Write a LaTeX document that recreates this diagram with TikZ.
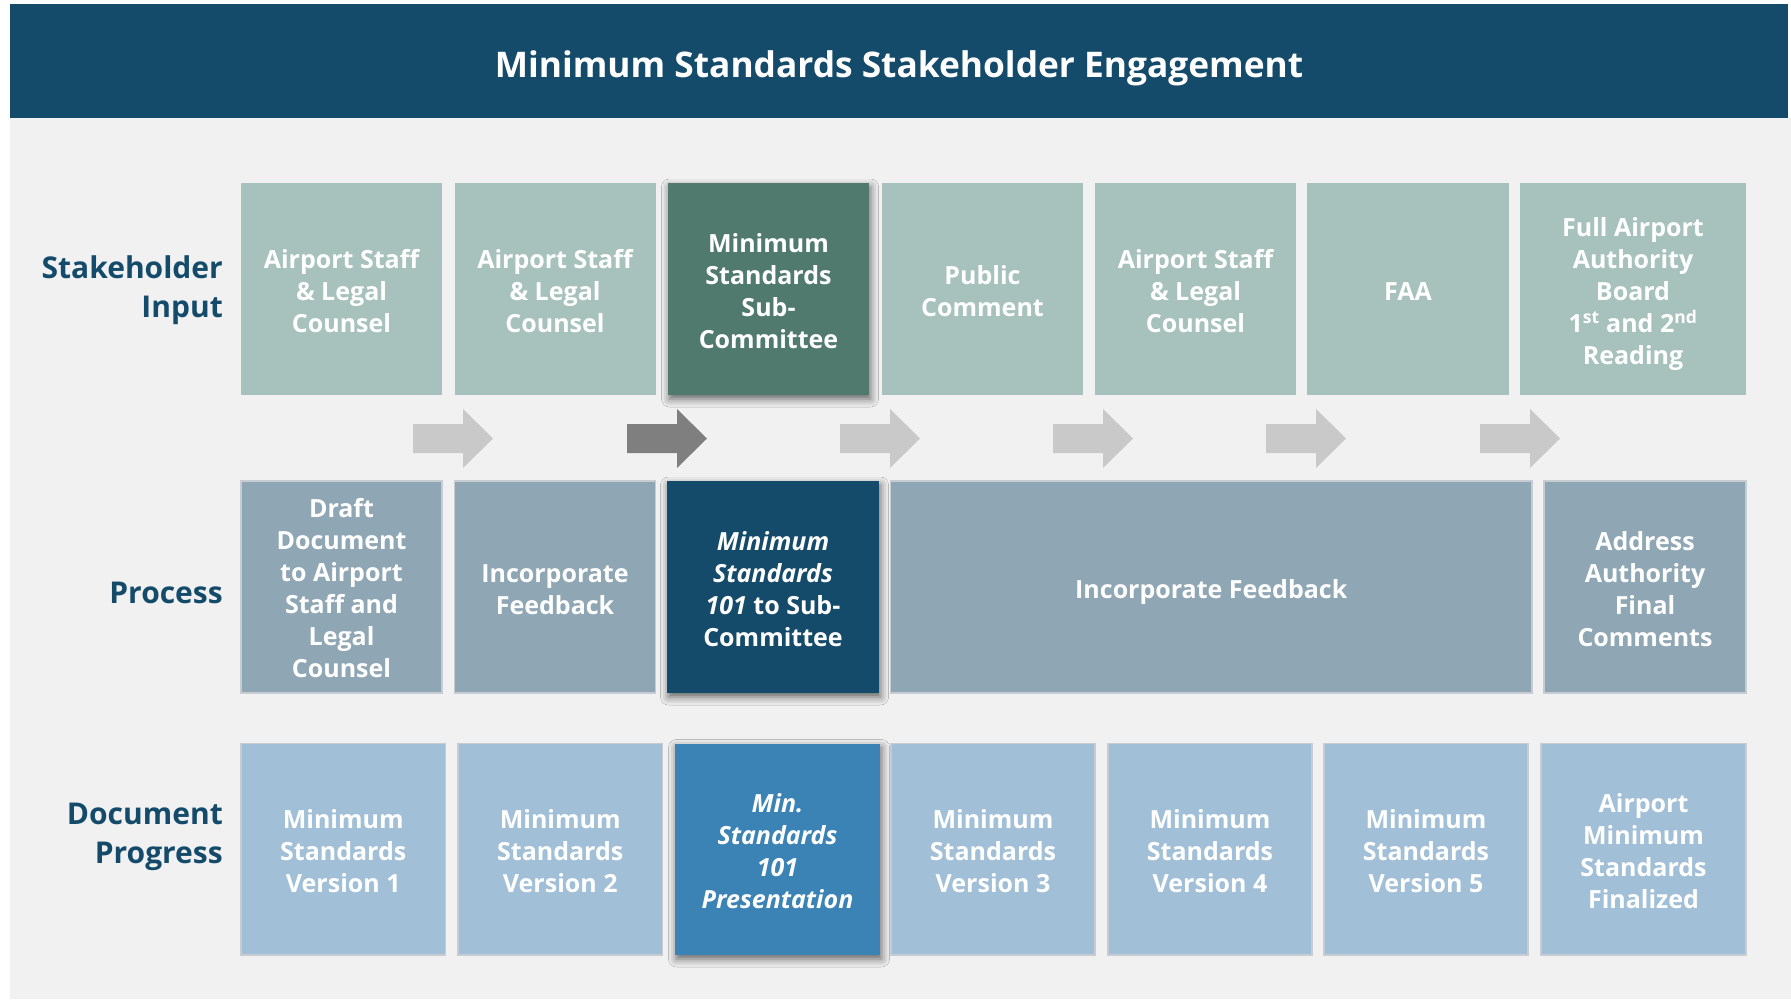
\documentclass[tikz,border=0pt]{standalone}
\usepackage{fontspec}
\setmainfont{Open Sans}
\usetikzlibrary{shadows.blur}
\definecolor{navy}{HTML}{154B6A}
\definecolor{bggray}{HTML}{F1F1F1}
\definecolor{sage}{HTML}{A7C2BC}
\definecolor{darkgreen}{HTML}{517A6F}
\definecolor{grayblue}{HTML}{8FA6B4}
\definecolor{lightblue}{HTML}{A1BFD6}
\definecolor{hiblue}{HTML}{3B83B5}
\definecolor{arrowlight}{HTML}{C9C9C9}
\definecolor{arrowdark}{HTML}{7F7F7F}
\definecolor{cellborder}{HTML}{C6CCD1}
\begin{document}
\begin{tikzpicture}[x=1pt,y=-1pt,
  cell/.style={rectangle, inner sep=0pt},
  celltext/.style={text=white, align=center, inner sep=0pt, yshift=-2.3pt,
    font=\bfseries\fontsize{25}{32}\selectfont},
  topcell/.style={cell, fill=sage},
  midcell/.style={cell, fill=grayblue, draw=cellborder, line width=1.2pt},
  botcell/.style={cell, fill=lightblue, draw=cellborder, line width=1.2pt},
  hishadow/.style={blur shadow={shadow xshift=1.5pt, shadow yshift=-4pt,
    shadow blur radius=8pt, shadow opacity=60}},
  rowlabel/.style={anchor=east, align=right, text=navy, inner sep=0pt,
    font=\bfseries\fontsize{30}{39}\selectfont},
  blockarrow/.style={fill=arrowlight},
  blockarrowdark/.style={fill=arrowdark}
]
\useasboundingbox (0,0) rectangle (1791,999);
\fill[white] (0,0) rectangle (1791,999);
\fill[bggray] (10,118) rectangle (1791,999);
\node[fill=navy, inner sep=0pt, minimum width=1778pt, minimum height=114pt, anchor=north west] (header) at (10,4) {};
\node[text=white, font=\bfseries\fontsize{35.3}{42}\selectfont] (title) at (899,68) {Minimum Standards Stakeholder Engagement};

% row labels
\node[rowlabel] (lsi) at (223,290.5) {Stakeholder\\Input};
\node[rowlabel] (lpr) at (223,593) {Process};
\node[rowlabel] (ldp) at (223,836.5) {Document\\Progress};

% top row
\node[topcell, minimum width=201pt, minimum height=212pt,
  label={[celltext]center:{Airport Staff\\\& Legal\\Counsel}}] (t1) at (341.5,289) {};
\node[topcell, minimum width=201pt, minimum height=212pt,
  label={[celltext]center:{Airport Staff\\\& Legal\\Counsel}}] (t2) at (555,289) {};
\node[topcell, fill=darkgreen, hishadow, minimum width=201pt, minimum height=212pt,
  label={[celltext]center:{Minimum\\Standards\\Sub-\\Committee}}] (t3) at (768.5,289) {};
\node[topcell, minimum width=201pt, minimum height=212pt,
  label={[celltext]center:{Public\\Comment}}] (t4) at (982.5,289) {};
\node[topcell, minimum width=201pt, minimum height=212pt,
  label={[celltext]center:{Airport Staff\\\& Legal\\Counsel}}] (t5) at (1195.5,289) {};
\node[topcell, minimum width=202pt, minimum height=212pt,
  label={[celltext]center:{FAA}}] (t6) at (1408,289) {};
\node[topcell, minimum width=226pt, minimum height=212pt,
  label={[celltext, yshift=-2.3pt]center:{Full Airport\\Authority\\Board\\1\textsuperscript{st} and 2\textsuperscript{nd}\\Reading}}] (t7) at (1633,289) {};

% arrows
\foreach \ax [count=\i] in {413,627,840,1053,1266,1480} {
  \coordinate (ar\i) at (\ax,424);
}
\foreach \i in {1,3,4,5,6} {
  \fill[blockarrow] (ar\i) -- ++(50,0) -- ++(0,-15) -- ++(30,29.5) -- ++(-30,29.5) -- ++(0,-15) -- ++(-50,0) -- cycle;
}
\fill[blockarrowdark] (ar2) -- ++(50,0) -- ++(0,-15) -- ++(30,29.5) -- ++(-30,29.5) -- ++(0,-15) -- ++(-50,0) -- cycle;

% middle row
\node[midcell, minimum width=201pt, minimum height=212pt,
  label={[celltext, yshift=1pt]center:{Draft\\Document\\to Airport\\Staff and\\Legal\\Counsel}}] (m1) at (341.5,587) {};
\node[midcell, minimum width=201pt, minimum height=212pt,
  label={[celltext]center:{Incorporate\\Feedback}}] (m2) at (555,587) {};
\node[cell, fill=navy, hishadow, minimum width=212pt, minimum height=212pt,
  label={[celltext]center:{\itshape Minimum\\\itshape Standards\\\textit{101} to Sub-\\Committee}}] (m3) at (773,587) {};
\node[midcell, minimum width=641.5pt, minimum height=212pt,
  label={[celltext, yshift=-2.3pt]center:{Incorporate Feedback}}] (m4) at (1211.25,587) {};
\node[midcell, minimum width=202pt, minimum height=212pt,
  label={[celltext]center:{Address\\Authority\\Final\\Comments}}] (m5) at (1645,587) {};

% bottom row
\node[botcell, minimum width=204.5pt, minimum height=211.5pt,
  label={[celltext]center:{Minimum\\Standards\\Version 1}}] (b1) at (343.25,849.25) {};
\node[botcell, minimum width=204.5pt, minimum height=211.5pt,
  label={[celltext]center:{Minimum\\Standards\\Version 2}}] (b2) at (560.25,849.25) {};
\node[cell, fill=hiblue, hishadow, minimum width=205pt, minimum height=211.5pt,
  label={[celltext]center:{\itshape Min.\\\itshape Standards\\\itshape 101\\\itshape Presentation}}] (b3) at (777.5,849.25) {};
\node[botcell, minimum width=204pt, minimum height=211.5pt,
  label={[celltext]center:{Minimum\\Standards\\Version 3}}] (b4) at (993,849.25) {};
\node[botcell, minimum width=204pt, minimum height=211.5pt,
  label={[celltext]center:{Minimum\\Standards\\Version 4}}] (b5) at (1210,849.25) {};
\node[botcell, minimum width=204pt, minimum height=211.5pt,
  label={[celltext]center:{Minimum\\Standards\\Version 5}}] (b6) at (1426,849.25) {};
\node[botcell, minimum width=205pt, minimum height=211.5pt,
  label={[celltext]center:{Airport\\Minimum\\Standards\\Finalized}}] (b7) at (1643.5,849.25) {};
\end{tikzpicture}
\end{document}
